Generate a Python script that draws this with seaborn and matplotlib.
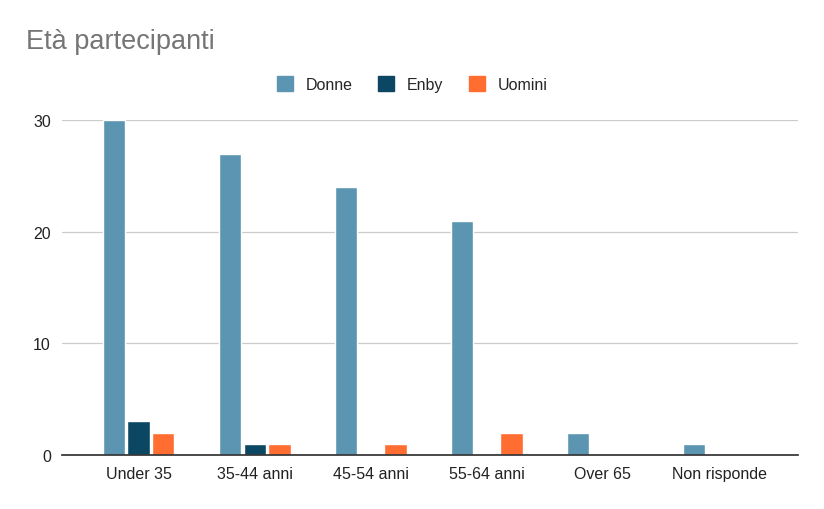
import pandas as pd
import matplotlib.pyplot as plt
import seaborn as sns

categories = ['Under 35', '35-44 anni', '45-54 anni', '55-64 anni', 'Over 65', 'Non risponde']
donne = [30, 27, 24, 21, 2, 1]
enby = [3, 1, 0, 0, 0, 0]
uomini = [2, 1, 1, 2, 0, 0]

df = pd.DataFrame({'eta': categories, 'Donne': donne, 'Enby': enby, 'Uomini': uomini})
df = df.melt(id_vars='eta', var_name='genere', value_name='n')

sns.set_theme(style='white')
plt.rcParams['font.family'] = ['Liberation Sans', 'DejaVu Sans']

fig = plt.figure(figsize=(8.24, 5.1), dpi=100)
ax = fig.add_axes([0.0752, 0.1059, 0.8932, 0.6568])

palette = {'Donne': '#5B95B1', 'Enby': '#0B4763', 'Uomini': '#FF6D31'}
sns.barplot(data=df, x='eta', y='n', hue='genere', palette=palette, saturation=1,
            width=0.64, gap=0.1, ax=ax, legend=False)

ax.set_xlim(-0.66, 5.68)
ax.set_ylim(0, 30)
ax.set_yticks([0, 10, 20, 30])
ax.yaxis.grid(True, color='#cccccc', linewidth=0.9)
ax.set_axisbelow(True)
for s in ['top', 'right', 'left']:
    ax.spines[s].set_visible(False)
ax.spines['bottom'].set_color('#333333')
ax.tick_params(axis='both', length=0, labelsize=11.5, colors='#222222', pad=8)
ax.set_xlabel('')
ax.set_ylabel('')

fig.text(0.032, 0.917, 'Età partecipanti', fontsize=19.5, color='#757575', va='center')

handles = [plt.Rectangle((0, 0), 1, 1, color=palette[k]) for k in ['Donne', 'Enby', 'Uomini']]
fig.legend(handles, ['Donne', 'Enby', 'Uomini'], loc='center', bbox_to_anchor=(0.5, 0.833),
           ncol=3, frameon=False, fontsize=11.5, handlelength=1.0, handleheight=1.0,
           columnspacing=1.6, handletextpad=0.8)

fig.savefig('out.png', dpi=100)
